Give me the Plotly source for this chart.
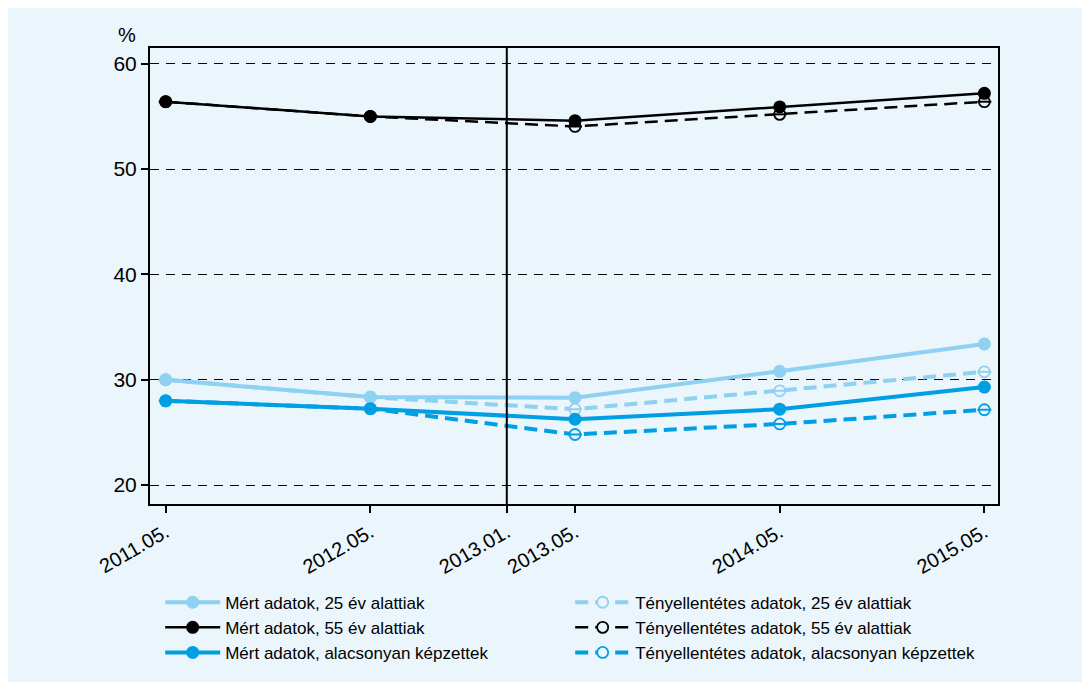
import plotly.graph_objects as go

labels = ["2011.05.", "2012.05.", "2013.01.", "2013.05.", "2014.05.", "2015.05."]
obs_labels = ["2011.05.", "2012.05.", "2013.05.", "2014.05.", "2015.05."]

measured_25 = [30.0, 28.35, 28.3, 30.8, 33.4]
measured_55 = [56.4, 55.0, 54.6, 55.9, 57.2]
measured_low = [28.0, 27.25, 26.25, 27.2, 29.3]
counter_25 = [30.0, 28.35, 27.2, 28.95, 30.75]
counter_55 = [56.4, 55.0, 54.05, 55.2, 56.4]
counter_low = [28.0, 27.25, 24.8, 25.8, 27.15]

reform_label = "2013.01."


def month_index(lbl):
    y, m = lbl.strip(".").split(".")
    return (int(y) - 2011) * 12 + int(m) - 5


xt = [month_index(l) for l in labels]
xo = [month_index(l) for l in obs_labels]

LIGHT = "#8ed1f0"
MID = "#009fe3"
BLACK = "#000000"
BG = "#eaf5fc"
FONT = "Liberation Sans Narrow, Arial Narrow, Liberation Sans, Arial"
TFONT = "Liberation Sans, Arial"

fig = go.Figure()


def solid(name, y, color, width, rank):
    fig.add_trace(go.Scatter(
        x=xo, y=y, name=name, mode="lines+markers", legendrank=rank,
        line=dict(color=color, width=width),
        marker=dict(color=color, size=13, symbol="circle"),
    ))


def dashed(name, y, color, width, rank):
    fig.add_trace(go.Scatter(
        x=xo, y=y, name=name, mode="lines+markers", legendrank=rank,
        line=dict(color=color, width=width, dash="13px,7px"),
        marker=dict(color=BG, size=11, symbol="circle",
                    line=dict(color=color, width=1.8)),
    ))
    fig.add_trace(go.Scatter(
        x=xo, y=y, mode="markers", showlegend=False, hoverinfo="skip",
        marker=dict(size=10, symbol="line-ew", line=dict(color=color, width=2)),
    ))


dashed("Tényellentétes adatok, 25 év alattiak", counter_25, LIGHT, 4, 2)
dashed("Tényellentétes adatok, 55 év alattiak", counter_55, BLACK, 2.5, 4)
dashed("Tényellentétes adatok, alacsonyan képzettek", counter_low, MID, 4, 6)
solid("Mért adatok, 25 év alattiak", measured_25, LIGHT, 4, 1)
solid("Mért adatok, 55 év alattiak", measured_55, BLACK, 2.5, 3)
solid("Mért adatok, alacsonyan képzettek", measured_low, MID, 4, 5)

fig.add_shape(type="line", xref="x", yref="paper",
              x0=month_index(reform_label), x1=month_index(reform_label),
              y0=0, y1=1, line=dict(color="black", width=2), layer="above")

fig.update_layout(
    width=1090, height=682,
    paper_bgcolor=BG, plot_bgcolor=BG,
    margin=dict(l=142, r=100, t=40, b=186, autoexpand=False),
    font=dict(family=FONT, size=17, color="black"),
    showlegend=True,
    legend=dict(
        orientation="h", x=0.012, y=-0.177, xanchor="left", yanchor="top",
        entrywidth=340, entrywidthmode="pixels",
        traceorder="normal", bgcolor="rgba(0,0,0,0)",
        font=dict(family=FONT, size=17), itemwidth=55,
    ),
    xaxis=dict(
        range=[-0.92, 48.8], tickmode="array", tickvals=xt, ticktext=labels,
        tickangle=-30, ticks="outside", ticklen=7, tickwidth=2, tickcolor="black",
        showgrid=False, zeroline=False, showline=True, linecolor="black",
        linewidth=2, mirror=True, tickfont=dict(family=TFONT, size=20),
        automargin=False,
    ),
    yaxis=dict(
        range=[18.2, 61.5], tickvals=[20, 30, 40, 50, 60],
        ticks="outside", ticklen=7, tickwidth=2, tickcolor="black",
        showgrid=True, gridcolor="black", gridwidth=1, griddash="9px,7px",
        zeroline=False, showline=True, linecolor="black", linewidth=2, mirror=True,
        tickfont=dict(family=TFONT, size=21), automargin=False,
    ),
    annotations=[dict(text="%", xref="paper", yref="paper", x=-0.027, y=1.0,
                      xanchor="center", yanchor="bottom", showarrow=False,
                      font=dict(family=TFONT, size=20))],
)

fig.write_html("out.html")
